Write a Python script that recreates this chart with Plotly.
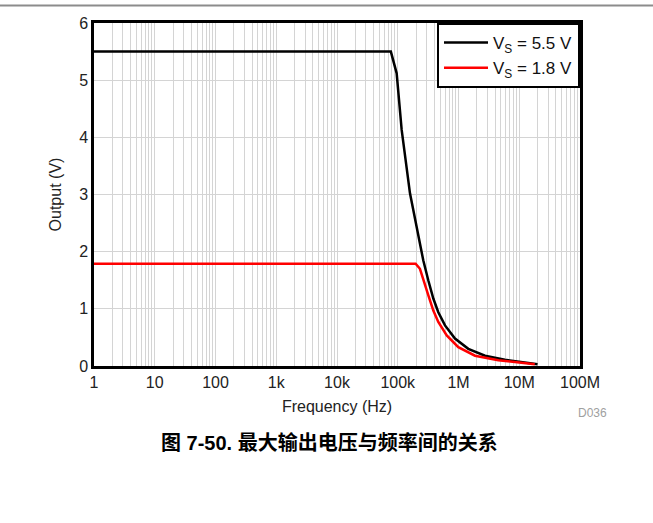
import plotly.graph_objects as go

# Data
freq_55 = [1, 77e3, 96e3, 116e3, 159e3, 224e3, 263e3, 318e3, 385e3, 465e3, 600e3, 875e3,
           1.45e6, 2.73e6, 5.8e6, 20e6]
vout_55 = [5.5, 5.5, 5.12, 4.13, 3.02, 2.20, 1.85, 1.50, 1.18, 0.94, 0.71, 0.48,
           0.30, 0.18, 0.11, 0.03]

freq_18 = [1, 197e3, 232e3, 263e3, 318e3, 385e3, 465e3, 640e3, 993e3, 1.87e6, 4.52e6, 18e6]
vout_18 = [1.79, 1.79, 1.70, 1.53, 1.24, 0.97, 0.77, 0.535, 0.33, 0.18, 0.10, 0.03]

x_tickvals = [1, 10, 100, 1e3, 1e4, 1e5, 1e6, 1e7, 1e8]
x_ticktext = ["1", "10", "100", "1k", "10k", "100k", "1M", "10M", "100M"]

series_names = ["V<sub>S</sub> = 5.5 V", "V<sub>S</sub> = 1.8 V"]

FONT = "Liberation Sans, Arial, Noto Sans CJK SC, sans-serif"

fig = go.Figure()
fig.add_trace(go.Scatter(x=freq_55, y=vout_55, mode="lines", name=series_names[0],
                         line=dict(color="#000000", width=2.5)))
fig.add_trace(go.Scatter(x=freq_18, y=vout_18, mode="lines", name=series_names[1],
                         line=dict(color="#ff0000", width=2.5)))

fig.update_layout(
    width=653, height=523,
    margin=dict(l=94, r=73, t=23, b=157),
    paper_bgcolor="white", plot_bgcolor="white",
    font=dict(family=FONT, size=16, color="#222222"),
    showlegend=True,
    legend=dict(x=1, y=1, xanchor="right", yanchor="top",
                bordercolor="#000000", borderwidth=2, bgcolor="white",
                font=dict(size=17, color="#111111"),
                tracegroupgap=0, itemwidth=44),
    xaxis=dict(type="log", range=[0, 8], tickvals=x_tickvals, ticktext=x_ticktext,
               showgrid=True, gridcolor="#d4d4d4", gridwidth=1,
               minor=dict(showgrid=True, gridcolor="#d4d4d4", gridwidth=1, dtick="D1", ticks=""),
               showline=True, linecolor="#000000", linewidth=2.5, mirror=True,
               ticks="", zeroline=False, tickfont=dict(size=16),
               title=dict(text="Frequency (Hz)", standoff=11, font=dict(size=16))),
    yaxis=dict(range=[0, 6], dtick=1, showgrid=True, gridcolor="#d4d4d4", gridwidth=1,
               showline=True, linecolor="#000000", linewidth=2.5, mirror=True,
               ticks="", zeroline=False, tickfont=dict(size=16),
               title=dict(text="Output (V)", standoff=14, font=dict(size=16))),
)

# top rule of the page (about 5 px below the top edge, full width)
fig.add_shape(type="line", xref="paper", yref="paper", layer="above",
              x0=-94 / 486, x1=(653 - 94) / 486, y0=1 + 17.5 / 343, y1=1 + 17.5 / 343,
              line=dict(color="#8c8c8c", width=2))

fig.add_annotation(text="D036", xref="paper", yref="paper",
                   x=(609 - 94) / 486, y=-(413 - 366) / 343,
                   xanchor="right", yanchor="middle", showarrow=False,
                   font=dict(size=12, color="#a0a0a0"))
fig.add_annotation(text="<b>图 7-50. 最大输出电压与频率间的关系</b>", xref="paper", yref="paper",
                   x=(329 - 94) / 486, y=-(443 - 366) / 343,
                   xanchor="center", yanchor="middle", showarrow=False,
                   font=dict(size=20, color="#000000",
                             family="Liberation Sans, Noto Sans CJK SC, sans-serif"))

fig.write_html("out.html", config={"displayModeBar": False},
               post_script="document.body.style.margin='0';document.body.style.padding='0';")
